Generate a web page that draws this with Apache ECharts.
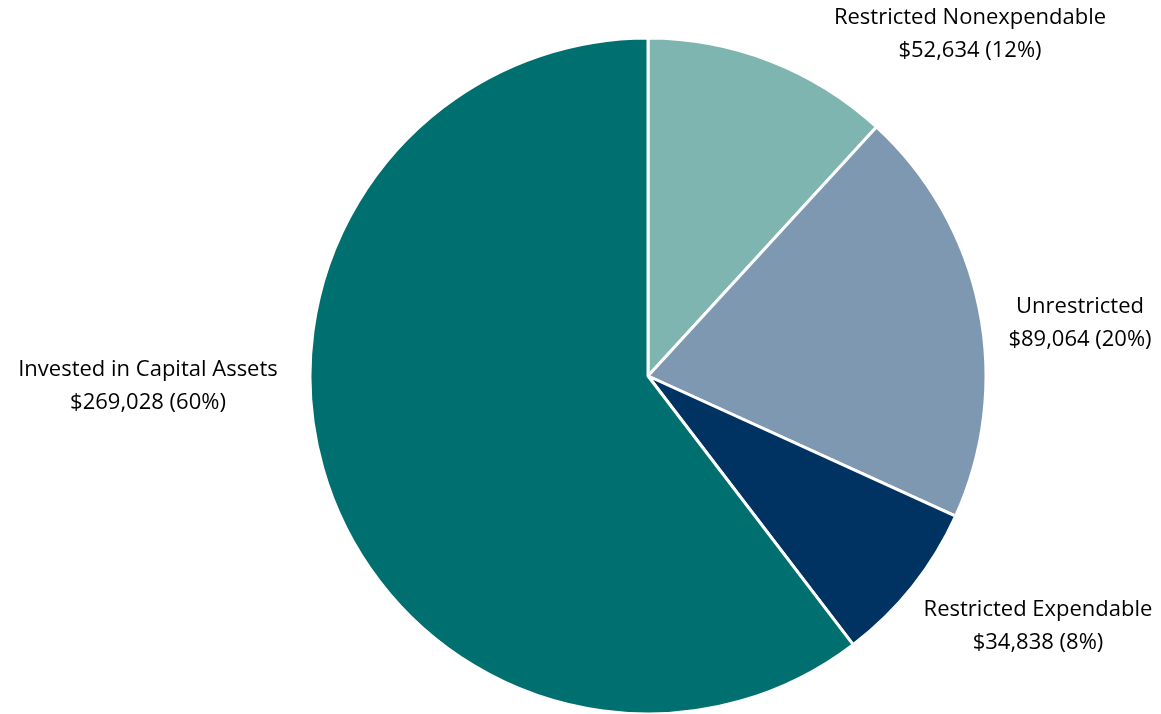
<!DOCTYPE html>
<html><head><meta charset="utf-8">
<script src="https://cdn.jsdelivr.net/npm/echarts@6/dist/echarts.min.js"></script>
<style>html,body{margin:0;padding:0;background:#fff}#c{width:1161px;height:714px}</style>
</head><body><div id="c"></div>
<script>
const categories = ['Restricted Nonexpendable', 'Unrestricted', 'Restricted Expendable', 'Invested in Capital Assets'];
const values = [52634, 89064, 34838, 269028];
const percents = [12, 20, 8, 60];
const colors = ['#7FB5B0', '#7F98B2', '#003262', '#006F6F'];
const labelCenters = [[970, 34], [1080, 323], [1038, 626], [148, 386]];

const chart = echarts.init(document.getElementById('c'));
chart.setOption({
  animation: false,
  series: [{
    type: 'pie',
    center: [648, 376],
    radius: [0, 338],
    startAngle: 90,
    clockwise: true,
    avoidLabelOverlap: false,
    data: categories.map((n, i) => ({ name: n, value: values[i], itemStyle: { color: colors[i] } })),
    itemStyle: { borderColor: '#fff', borderWidth: 3 },
    label: {
      show: true,
      position: 'outside',
      alignTo: 'none',
      overflow: 'none',
      bleedMargin: 0,
      fontFamily: 'Open Sans',
      fontSize: 22,
      lineHeight: 33,
      color: '#000',
      align: 'center',
      formatter: p => p.name + '\n$' + p.value.toLocaleString('en-US') + ' (' + percents[p.dataIndex] + '%)'
    },
    labelLine: { show: false },
    labelLayout: p => ({ x: labelCenters[p.dataIndex][0], y: labelCenters[p.dataIndex][1], align: 'center', verticalAlign: 'middle' })
  }]
});
</script></body></html>
